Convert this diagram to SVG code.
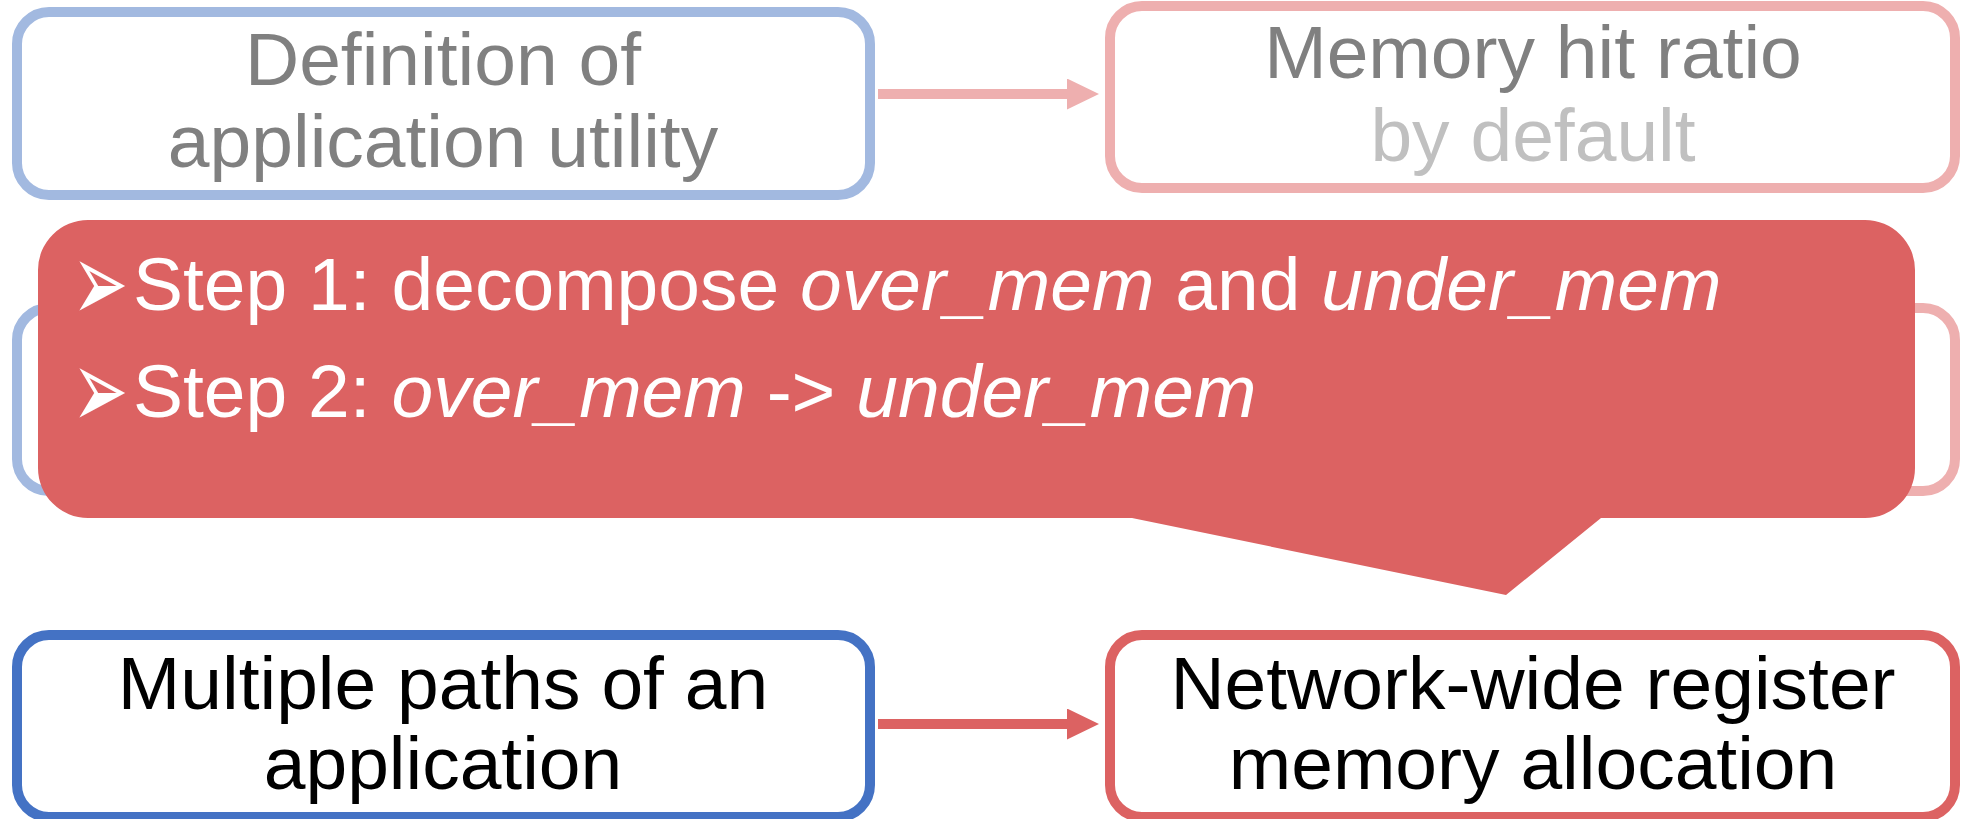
<svg xmlns="http://www.w3.org/2000/svg" width="1962" height="819" viewBox="0 0 1962 819">
  <style>
    .box { fill: #ffffff; stroke-width: 10; }
    .blue-soft { stroke: #A2B9E0; }
    .pink-soft { stroke: #EEAFAF; }
    .blue { stroke: #4472C4; }
    .red { stroke: #DC6262; }
    .label { font-family: "Liberation Sans", Arial, sans-serif; font-size: 75px; text-anchor: middle; }
    .gray { fill: #808080; }
    .light { fill: #C0C0C0; }
    .dark { fill: #000000; }
    .callout-text { font-family: "Liberation Sans", Arial, sans-serif; font-size: 75px; fill: #ffffff; }
    .bullet { font-family: "DejaVu Sans", sans-serif; font-size: 112px; fill: #ffffff; }
    .it { font-style: italic; }
  </style>
  <defs>
    <marker id="headSoft" viewBox="0 0 32 31" refX="0" refY="15.5" markerUnits="userSpaceOnUse" markerWidth="32" markerHeight="31" orient="auto">
      <path d="M0,0 L32,15.5 L0,31 Z" fill="#EEAFAF"/>
    </marker>
    <marker id="headRed" viewBox="0 0 32 31" refX="0" refY="15.5" markerUnits="userSpaceOnUse" markerWidth="32" markerHeight="31" orient="auto">
      <path d="M0,0 L32,15.5 L0,31 Z" fill="#DC6262"/>
    </marker>
  </defs>

  <!-- middle row (mostly hidden under the callout) -->
  <g id="mid-left">
    <rect class="box blue-soft" x="17" y="308" width="853" height="183" rx="32"/>
  </g>
  <g id="mid-right">
    <rect class="box pink-soft" x="1110" y="308" width="845" height="183" rx="32"/>
  </g>

  <!-- top row -->
  <g id="utility-def">
    <rect class="box blue-soft" x="17" y="12" width="853" height="183" rx="32"/>
    <text class="label gray" x="443" y="85">Definition of</text>
    <text class="label gray" x="443" y="167">application utility</text>
  </g>
  <g id="hit-ratio">
    <rect class="box pink-soft" x="1110" y="6" width="845" height="182" rx="32"/>
    <text class="label gray" x="1533" y="78">Memory hit ratio</text>
    <text class="label light" x="1533" y="161">by default</text>
  </g>

  <!-- bottom row -->
  <g id="multi-path">
    <rect class="box blue" x="17" y="635" width="853" height="182" rx="32"/>
    <text class="label dark" x="443" y="709">Multiple paths of an</text>
    <text class="label dark" x="443" y="789">application</text>
  </g>
  <g id="allocation">
    <rect class="box red" x="1110" y="635" width="845" height="182" rx="32"/>
    <text class="label dark" x="1533" y="709">Network-wide register</text>
    <text class="label dark" x="1533" y="789">memory allocation</text>
  </g>

  <!-- connectors -->
  <g id="connectors">
    <line x1="878" y1="94" x2="1067" y2="94" stroke="#EEAFAF" stroke-width="10" marker-end="url(#headSoft)"/>
    <line x1="878" y1="724" x2="1067" y2="724" stroke="#DC6262" stroke-width="10" marker-end="url(#headRed)"/>
  </g>

  <!-- callout overlay -->
  <g id="callout">
    <path d="M88,220 H1865 A50,50 0 0 1 1915,270 V468 A50,50 0 0 1 1865,518 H1601 L1506,595 L1132,518 H88 A50,50 0 0 1 38,468 V270 A50,50 0 0 1 88,220 Z" fill="#DC6262"/>
    <text class="bullet" transform="translate(72,321) scale(0.6,1)">➢</text>
    <text class="bullet" transform="translate(72,428) scale(0.6,1)">➢</text>
    <text class="callout-text" x="133" y="310">Step 1: decompose <tspan class="it">over_mem</tspan> and <tspan class="it">under_mem</tspan></text>
    <text class="callout-text" x="133" y="417">Step 2: <tspan class="it">over_mem</tspan> -&gt; <tspan class="it">under_mem</tspan></text>
  </g>
</svg>
